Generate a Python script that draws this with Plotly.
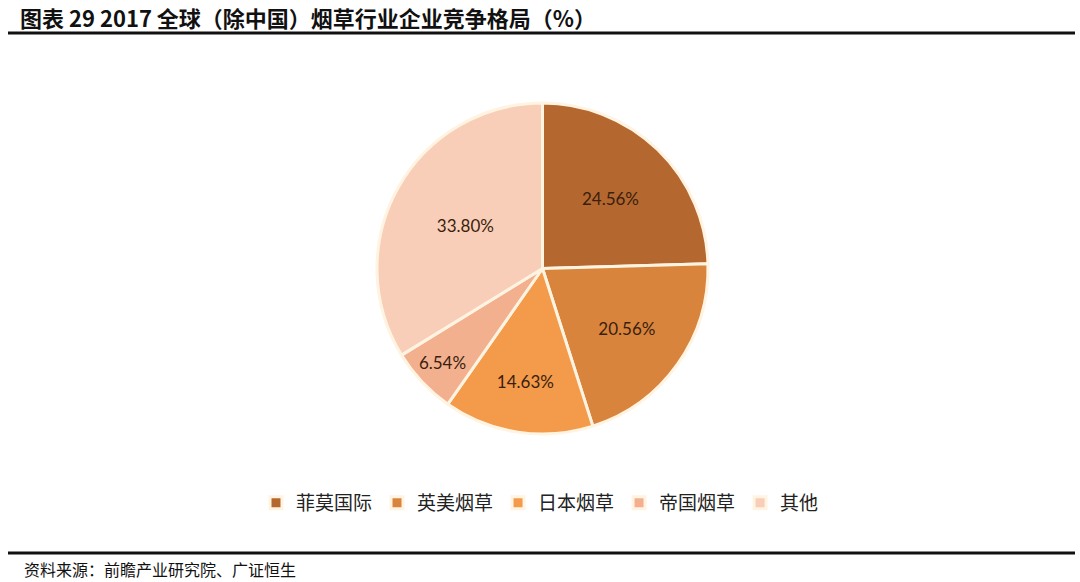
import plotly.graph_objects as go

# 2017 全球（除中国）烟草行业企业竞争格局
companies = ["菲莫国际", "英美烟草", "日本烟草", "帝国烟草", "其他"]
shares = [24.56, 20.56, 14.63, 6.54, 33.80]
slice_colors = ["#B4682F", "#D9843C", "#F39A4B", "#F3B08F", "#F8CEB8"]

W, H = 1080, 582

fig = go.Figure(
    data=[
        go.Pie(
            labels=companies,
            values=shares,
            sort=False,
            direction="clockwise",
            rotation=0,
            marker=dict(colors=slice_colors, line=dict(color="#FFF4E2", width=3)),
            texttemplate="%{value:.2f}%",
            textposition="inside",
            insidetextorientation="horizontal",
            textfont=dict(family="Lato", size=17, color="#3A1E0E"),
            domain=dict(x=[377 / W, 708 / W], y=[1 - 434 / H, 1 - 103 / H]),
            hoverinfo="label+percent",
        )
    ]
)

fig.update_layout(
    width=W,
    height=H,
    margin=dict(l=0, r=0, t=0, b=0),
    paper_bgcolor="white",
    plot_bgcolor="white",
    showlegend=True,
    legend=dict(
        orientation="h",
        x=0.5,
        xanchor="center",
        y=1 - 503 / H,
        yanchor="middle",
        font=dict(family="Noto Sans CJK SC", size=19, color="#222222"),
        itemwidth=30,
        traceorder="normal",
    ),
    annotations=[
        dict(
            text="<b>图表 29 2017 全球（除中国）烟草行业企业竞争格局（%）</b>",
            x=18 / W, y=1 - 17 / H, xref="paper", yref="paper",
            xanchor="left", yanchor="middle", showarrow=False,
            font=dict(family="Noto Sans CJK SC", size=22, color="#111111"),
        ),
        dict(
            text="资料来源：前瞻产业研究院、广证恒生",
            x=22 / W, y=1 - 569 / H, xref="paper", yref="paper",
            xanchor="left", yanchor="middle", showarrow=False,
            font=dict(family="Noto Sans CJK SC", size=16, color="#111111"),
        ),
    ],
    shapes=[
        dict(type="line", xref="paper", yref="paper",
             x0=8 / W, x1=1075 / W, y0=1 - 33 / H, y1=1 - 33 / H,
             line=dict(color="#111111", width=3)),
        dict(type="line", xref="paper", yref="paper",
             x0=8 / W, x1=1075 / W, y0=1 - 553 / H, y1=1 - 553 / H,
             line=dict(color="#111111", width=3)),
    ],
)

# drop the page's default body margin so the figure sits at the window's corner
fig.write_html(
    "out.html",
    config={"displayModeBar": False},
    post_script="document.body.style.margin='0';document.body.style.overflow='hidden';",
)
